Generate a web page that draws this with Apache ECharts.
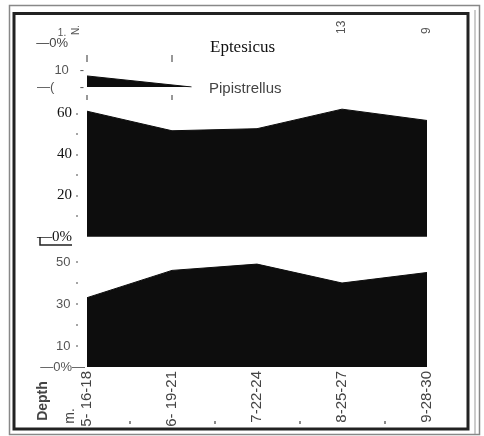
<!DOCTYPE html>
<html><head><meta charset="utf-8">
<script src="https://cdn.jsdelivr.net/npm/echarts@6/dist/echarts.min.js"></script>
<style>html,body{margin:0;padding:0;background:#fff}#c{width:484px;height:436px}</style>
</head><body><div id="c"></div>
<script>
// ---- data ----
const categories = ['5- 16-18', '6- 19-21', '7-22-24', '8-25-27', '9-28-30'];
const topLabels = ['', '', '', '13', '9'];
const keenii = [61, 51.5, 52.5, 62, 56.5];
const lucifugus = [33, 46, 49, 40, 45];
const pipistrellusX = [0, 1.23];
const pipistrellusY = [6.5, 0];
const keeniiLabels = [60, 40, 20];
const lucifugusLabels = [50, 30, 10];
const tickPositions = [0, 1];
const bottomMinorTicks = [0.5, 1.5, 2.5, 3.5];

const FILL = '#0d0d0d';
const chart = echarts.init(document.getElementById('c'), null, {renderer: 'canvas'});

function xv(gridIndex, extra) {
  return Object.assign({type: 'value', gridIndex, min: 0, max: 4, interval: 1,
    axisLine: {show: false}, axisTick: {show: false}, axisLabel: {show: false}, splitLine: {show: false}}, extra || {});
}
function yv(gridIndex, extra) {
  return Object.assign({type: 'value', gridIndex, position: 'left', min: 0, interval: 10,
    axisLine: {show: false}, axisTick: {show: false}, axisLabel: {show: false}, splitLine: {show: false}}, extra || {});
}
const areaSeries = (name, x, y, vals) => ({
  name, type: 'line', xAxisIndex: x, yAxisIndex: y, symbol: 'none', silent: true,
  data: vals.map((v, i) => [i, v]),
  lineStyle: {color: FILL, width: 1}, areaStyle: {color: FILL, opacity: 1}
});
const tickStyle = {color: '#777', width: 1.5};

chart.setOption({
  animation: false,
  backgroundColor: '#fff',
  grid: [
    {left: 87, right: 57, top: 36, height: 7},      // 0 Eptesicus
    {left: 87, right: 57, top: 70, height: 17},     // 1 Pipistrellus
    {left: 87, right: 57, top: 92.7, height: 144},  // 2 keenii
    {left: 87, right: 57, top: 241, height: 126},   // 3 lucifugus
    {left: 87, right: 57, top: 55, height: 7},      // 4 tick row
    {left: 87, right: 57, top: 95, height: 5},      // 5 tick row
    {left: 78, width: 2, top: 92.7, height: 144},   // 6 keenii ticks
    {left: 78, width: 2, top: 241, height: 126},    // 7 lucifugus ticks
    {left: 87, right: 57, top: 420, height: 4}      // 8 bottom minor ticks
  ],
  xAxis: [
    xv(0, {position: 'top', axisLabel: {show: true, rotate: 90, margin: 2, color: '#555', fontSize: 12,
      fontFamily: 'Liberation Sans', formatter: v => topLabels[v] || ''}}),
    xv(1),
    xv(2),
    xv(3, {position: 'bottom', axisLabel: {show: true, rotate: 90, margin: 4, color: '#444', fontSize: 15,
      fontFamily: 'Liberation Sans', formatter: v => categories[v] || ''}}),
    xv(4, {position: 'bottom', axisTick: {show: true, inside: true, length: 7, customValues: tickPositions, lineStyle: tickStyle}}),
    xv(5, {position: 'bottom', axisTick: {show: true, inside: true, length: 5, customValues: tickPositions, lineStyle: tickStyle}}),
    xv(6),
    xv(7),
    xv(8, {position: 'bottom', axisTick: {show: true, inside: true, length: 3, customValues: bottomMinorTicks, lineStyle: {color: '#666', width: 1.5}}})
  ],
  yAxis: [
    yv(0, {max: 10, axisLabel: {show: true, margin: 19, color: '#444', fontSize: 13, fontFamily: 'Liberation Sans',
      formatter: v => v === 0 ? '—0%' : ''}}),
    yv(1, {max: 10, axisLabel: {show: true, margin: 3, color: '#555', fontSize: 13, fontFamily: 'Liberation Sans',
      formatter: v => v === 10 ? '10   -' : (v === 0 ? '—(       -' : '')}}),
    yv(2, {max: 70, axisLabel: {show: true, margin: 15, color: '#111', fontSize: 15, fontFamily: 'Liberation Serif',
        formatter: v => keeniiLabels.includes(v) ? String(v) : (v === 0 ? '—0%' : '')}}),
    yv(3, {max: 60, axisLabel: {show: true, margin: 2, color: '#555', fontSize: 13, fontFamily: 'Liberation Sans',
        formatter: v => lucifugusLabels.includes(v) ? v + '    ' : (v === 0 ? '—0%—' : '')}}),
    yv(4, {max: 10}),
    yv(5, {max: 10}),
    yv(6, {max: 70, axisTick: {show: true, length: 2, customValues: [10, 20, 30, 40, 50, 60], lineStyle: {color: '#888', width: 1.5}}}),
    yv(7, {max: 60, axisTick: {show: true, length: 2, customValues: [10, 20, 30, 40, 50], lineStyle: {color: '#888', width: 1.5}}}),
    yv(8, {max: 10})
  ],
  series: [
    {name: 'Pipistrellus', type: 'line', xAxisIndex: 1, yAxisIndex: 1, symbol: 'none', silent: true,
      data: pipistrellusX.map((x, i) => [x, pipistrellusY[i]]),
      lineStyle: {color: FILL, width: 1}, areaStyle: {color: FILL, opacity: 1}},
    areaSeries('Myotis keenii', 2, 2, keenii),
    areaSeries('Myotis lucifugus', 3, 3, lucifugus)
  ],
  graphic: [
    {type: 'rect', shape: {x: 9.5, y: 5.5, width: 470, height: 429}, style: {fill: 'none', stroke: '#888', lineWidth: 1.5}, silent: true},
    {type: 'rect', shape: {x: 14, y: 13.5, width: 454, height: 415.5}, style: {fill: 'none', stroke: '#222', lineWidth: 3}, silent: true},
    {type: 'rect', shape: {x: 474.5, y: 10, width: 1, height: 424}, style: {fill: '#999'}, silent: true},
    {type: 'text', x: 210, y: 48, style: {text: 'Eptesicus', font: '17px "Liberation Serif"', fill: '#111', textAlign: 'left', textVerticalAlign: 'middle', align: 'left', verticalAlign: 'middle'}},
    {type: 'text', x: 209, y: 89, style: {text: 'Pipistrellus', font: '15px "Liberation Sans"', fill: '#444', textAlign: 'left', textVerticalAlign: 'middle', align: 'left', verticalAlign: 'middle'}},
    {type: 'polyline', shape: {points: [[40, 237], [40, 245], [72, 245]]}, style: {stroke: '#222', lineWidth: 1.5, fill: 'none'}},
    // Myotis keenii label box
    {type: 'rect', shape: {x: 203, y: 174, width: 113, height: 23}, style: {fill: '#fff'}},
    {type: 'text', x: 211, y: 185, style: {text: 'Myotis', font: '16px "Liberation Serif"', fill: '#111', textAlign: 'left', textVerticalAlign: 'middle', align: 'left', verticalAlign: 'middle'}},
    {type: 'rect', shape: {x: 255, y: 180, width: 7, height: 16}, style: {fill: '#111'}},
    {type: 'text', x: 264, y: 184, style: {text: 'keenii', font: '14px "Liberation Sans"', fill: '#555', textAlign: 'left', textVerticalAlign: 'middle', align: 'left', verticalAlign: 'middle'}},
    {type: 'line', shape: {x1: 211, y1: 191.5, x2: 307, y2: 191.5}, style: {stroke: '#111', lineWidth: 1.5}},
    // Myotis lucifugus label box
    {type: 'rect', shape: {x: 204, y: 318, width: 129, height: 23}, style: {fill: '#fff'}},
    {type: 'text', x: 212, y: 329, style: {text: 'Myotis', font: '16px "Liberation Serif"', fill: '#111', textAlign: 'left', textVerticalAlign: 'middle', align: 'left', verticalAlign: 'middle'}},
    {type: 'rect', shape: {x: 256, y: 323, width: 8, height: 16}, style: {fill: '#111'}},
    {type: 'text', x: 266, y: 328, style: {text: 'lucifugus', font: '15px "Liberation Sans"', fill: '#444', textAlign: 'left', textVerticalAlign: 'middle', align: 'left', verticalAlign: 'middle'}},
    {type: 'line', shape: {x1: 263, y1: 337.5, x2: 333, y2: 337.5}, style: {stroke: '#111', lineWidth: 1.5}},
    // side texts
    {type: 'text', x: 43, y: 401, rotation: Math.PI / 2, style: {text: 'Depth', font: 'bold 14px "Liberation Sans"', fill: '#444', textAlign: 'center', textVerticalAlign: 'middle', align: 'center', verticalAlign: 'middle'}},
    {type: 'text', x: 70, y: 416, rotation: Math.PI / 2, style: {text: 'm.', font: '14px "Liberation Sans"', fill: '#444', textAlign: 'center', textVerticalAlign: 'middle', align: 'center', verticalAlign: 'middle'}},
    {type: 'text', x: 62, y: 33, style: {text: '1.', font: '10px "Liberation Sans"', fill: '#555', textAlign: 'center', textVerticalAlign: 'middle', align: 'center', verticalAlign: 'middle'}},
    {type: 'text', x: 76, y: 30, rotation: Math.PI / 2, style: {text: 'N.', font: '10px "Liberation Sans"', fill: '#555', textAlign: 'center', textVerticalAlign: 'middle', align: 'center', verticalAlign: 'middle'}}
  ]
});
</script>
</body></html>
